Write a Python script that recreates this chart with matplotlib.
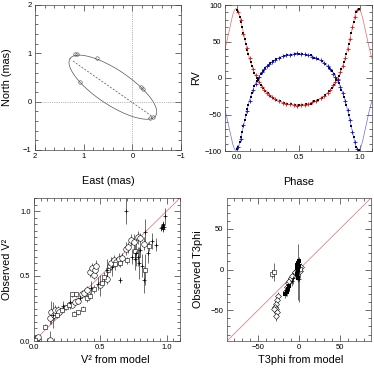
"""
Orbit summary figure: astrometric orbit, RV curves, V2 and T3phi fit quality.
Writes out.png.
"""
import numpy as np
import matplotlib
matplotlib.use("Agg")
import matplotlib.pyplot as plt
from matplotlib.ticker import MultipleLocator

plt.rcParams.update({"font.family": "Liberation Sans", "font.size": 7.8,
                     "axes.linewidth": 0.5, "axes.edgecolor": "#444444"})

# --- astrometric orbit (projected ellipse) and observed positions
ELL_CENTER = (0.40, 0.30)
ELL_A, ELL_B, ELL_PA = 1.06, 0.36, 34.0
NODE_LINE_X = [1.22, -0.40]
NODE_LINE_Y = [0.84, -0.30]
pos_east = [1.17, 1.13, 0.72, 1.07, -0.17, -0.22, -0.42, -0.36]
pos_north = [0.98, 0.99, 0.90, 0.41, 0.30, 0.26, -0.32, -0.34]

# --- spectroscopic orbit
ECC, OMEGA_DEG, T0 = 0.47, 0.0, -0.01
K1, K2, GAMMA = 66.0, 66.0, -2.0

rv_phase = [0.00, 0.01, 0.02, 0.03, 0.04, 0.05, 0.06, 0.07, 0.08, 0.09, 0.11, 0.12,
            0.14, 0.16, 0.17, 0.19, 0.21, 0.23, 0.25, 0.27, 0.29, 0.32, 0.35, 0.38,
            0.41, 0.44, 0.47, 0.50, 0.53, 0.56, 0.60, 0.63, 0.66, 0.69, 0.72, 0.75,
            0.77, 0.79, 0.81, 0.83, 0.85, 0.87, 0.89, 0.91, 0.93, 0.95, 0.97, 0.99]
rv1 = [93, 90, 84, 77, 70, 62, 54, 46, 39, 33, 22, 17,
       7, 0, -3, -9, -14, -18, -21, -24, -27, -30, -32, -34,
       -35, -36, -37, -37, -37, -36, -35, -32, -30, -27, -23, -18,
       -14, -9, -3, 3, 12, 22, 33, 46, 62, 77, 90, 95]
rv2 = [-97, -94, -88, -81, -74, -66, -58, -50, -43, -37, -26, -21,
       -11, -4, -1, 5, 10, 14, 17, 20, 23, 26, 28, 30,
       31, 32, 33, 33, 33, 32, 31, 28, 26, 23, 19, 14,
       10, 5, -1, -7, -16, -26, -37, -50, -66, -81, -94, -99]

rv_phase_b = [0.01, 0.03, 0.05, 0.08, 0.10, 0.13, 0.15, 0.18, 0.20, 0.22, 0.24, 0.26,
              0.28, 0.31, 0.34, 0.37, 0.40, 0.43, 0.46, 0.49, 0.52, 0.55, 0.58, 0.61,
              0.64, 0.68, 0.71, 0.74, 0.76, 0.78, 0.80, 0.82, 0.84, 0.86, 0.88, 0.90,
              0.92, 0.94, 0.96, 0.98]
rv1_b = [91, 79, 60, 41, 28, 13, 4, -5, -12, -16, -20, -23,
         -26, -29, -32, -34, -35, -36, -37, -38, -37, -37, -35, -33,
         -32, -28, -25, -20, -16, -10, -6, -1, 8, 17, 27, 40,
         54, 70, 84, 93]
rv2_b = [-95, -83, -64, -45, -32, -17, -8, 2, 8, 12, 16, 19,
         22, 25, 28, 30, 31, 32, 33, 34, 33, 33, 31, 29,
         28, 24, 21, 16, 12, 6, 2, -3, -12, -21, -31, -44,
         -58, -74, -88, -97]

# --- squared visibilities: model vs observed
v2c_mod = [0.02, 0.03, 0.12, 0.12, 0.13, 0.15, 0.16, 0.18, 0.19, 0.29, 0.31, 0.33,
           0.36, 0.38, 0.40, 0.42, 0.44, 0.45, 0.46, 0.47, 0.50, 0.55, 0.57, 0.58,
           0.60, 0.62, 0.64, 0.66, 0.69, 0.71, 0.73, 0.75, 0.78, 0.80, 0.83]
v2c_obs = [0.02, 0.03, 0.01, 0.18, 0.22, 0.20, 0.24, 0.24, 0.22, 0.28, 0.30, 0.31,
           0.36, 0.37, 0.39, 0.53, 0.56, 0.51, 0.55, 0.58, 0.43, 0.48, 0.58, 0.60,
           0.62, 0.61, 0.63, 0.64, 0.71, 0.72, 0.78, 0.76, 0.80, 0.79, 0.75]
v2c_err = [0.01, 0.01, 0.07, 0.05, 0.09, 0.04, 0.04, 0.03, 0.03, 0.02, 0.02, 0.02,
           0.03, 0.03, 0.03, 0.04, 0.04, 0.03, 0.04, 0.04, 0.08, 0.04, 0.03, 0.05,
           0.04, 0.03, 0.05, 0.04, 0.05, 0.04, 0.04, 0.06, 0.05, 0.04, 0.05]

v2s_mod = [0.01, 0.08, 0.17, 0.21, 0.24, 0.26, 0.30, 0.33, 0.37, 0.29, 0.32, 0.40,
           0.42, 0.45, 0.51, 0.53, 0.56, 0.61, 0.65, 0.70, 0.76, 0.84, 0.87]
v2s_obs = [0.01, 0.11, 0.20, 0.24, 0.26, 0.28, 0.21, 0.22, 0.25, 0.36, 0.36, 0.33,
           0.35, 0.40, 0.45, 0.49, 0.55, 0.59, 0.60, 0.62, 0.69, 0.55, 0.73]
v2s_err = [0.01, 0.02, 0.02, 0.02, 0.02, 0.02, 0.02, 0.02, 0.02, 0.02, 0.02, 0.03,
           0.03, 0.03, 0.03, 0.04, 0.03, 0.04, 0.03, 0.03, 0.05, 0.12, 0.04]

v2p_mod = [0.14, 0.22, 0.27, 0.35, 0.43, 0.48, 0.55, 0.59, 0.65, 0.69, 0.74, 0.76,
           0.77, 0.78, 0.79, 0.80, 0.81, 0.83, 0.84, 0.86, 0.89, 0.92, 0.96, 0.965,
           0.97, 0.975, 0.97, 0.98, 0.99]
v2p_obs = [0.20, 0.27, 0.30, 0.33, 0.41, 0.44, 0.55, 0.57, 0.47, 1.00, 0.65, 0.63,
           0.68, 0.65, 0.60, 0.70, 0.58, 0.47, 0.84, 0.68, 0.77, 0.74, 0.87, 0.88,
           0.89, 0.90, 0.86, 0.88, 0.96]
v2p_err = [0.10, 0.04, 0.05, 0.04, 0.05, 0.05, 0.08, 0.07, 0.02, 0.10, 0.06, 0.08,
           0.10, 0.07, 0.12, 0.05, 0.09, 0.10, 0.10, 0.08, 0.06, 0.05, 0.02, 0.02,
           0.02, 0.02, 0.02, 0.02, 0.06]

# --- closure phases: model vs observed (deg)
t3c_mod = [-26, -27, -28, -29, -28, -27, -28, -30, -14, -12, -10, -15, -16, -8, -5, -3, 0, 2, 1]
t3c_obs = [-33, -38, -42, -46, -49, -52, -57, -48, -17, -14, -11, -22, -26, -8, -3, -1, 2, 3, -2]
t3c_err = [5, 6, 7, 6, 8, 8, 6, 5, 6, 5, 6, 5, 6, 5, 6, 5, 4, 5, 8]

t3s_mod = [-33, -30, -2, 1, -1]
t3s_obs = [-6, -3, -1, 1, 4]
t3s_err = [5, 11, 4, 5, 6]

t3f_mod = [-1, -2, 0, -1, -2, -1, 0, -3, -12, -15, -13, -17]
t3f_obs = [8, 6, 4, -1, -6, -10, 10, 2, -20, -28, -24, -30]
t3f_err = [5, 6, 5, 6, 7, 5, 4, 4, 5, 4, 5, 5]

t3p_mod = [-1, 0, -7, -9]
t3p_obs = [-3, -12, -10, -14]
t3p_err = [35, 28, 8, 6]


def rv_model(phase, k, sign):
    M = 2 * np.pi * (np.asarray(phase) - T0)
    E = M.copy()
    for _ in range(50):
        E = E - (E - ECC * np.sin(E) - M) / (1 - ECC * np.cos(E))
    nu = 2 * np.arctan2(np.sqrt(1 + ECC) * np.sin(E / 2), np.sqrt(1 - ECC) * np.cos(E / 2))
    w = np.radians(OMEGA_DEG)
    return GAMMA + sign * k * (np.cos(nu + w) + ECC * np.cos(w))


def _style(ax, xmaj, xmin, ymaj, ymin):
    ax.xaxis.set_major_locator(MultipleLocator(xmaj))
    ax.xaxis.set_minor_locator(MultipleLocator(xmin))
    ax.yaxis.set_major_locator(MultipleLocator(ymaj))
    ax.yaxis.set_minor_locator(MultipleLocator(ymin))
    ax.tick_params(which="both", direction="in", top=True, right=True,
                   labelsize=5.5, width=0.4, pad=2.5)
    ax.tick_params(which="major", length=4)
    ax.tick_params(which="minor", length=2)


W, H = 374, 371
fig = plt.figure(figsize=(W / 100, H / 100), dpi=100)


def _axes(l, t, r, b):
    return fig.add_axes([l / W, 1 - b / H, (r - l) / W, (b - t) / H])


# top-left: relative orbit on the sky
ax = _axes(35, 5, 181, 150)
th = np.linspace(0, 2 * np.pi, 400)
pa = np.radians(ELL_PA)
ex = ELL_CENTER[0] + ELL_A * np.cos(th) * np.cos(pa) - ELL_B * np.sin(th) * np.sin(pa)
ey = ELL_CENTER[1] + ELL_A * np.cos(th) * np.sin(pa) + ELL_B * np.sin(th) * np.cos(pa)
ax.plot(ex, ey, color="#555555", lw=0.5)
ax.plot(NODE_LINE_X, NODE_LINE_Y, color="#555555", lw=0.5, ls=(0, (3, 2)))
ax.axhline(0, color="#777777", lw=0.5, ls=":")
ax.axvline(0, color="#777777", lw=0.5, ls=":")
ax.plot(pos_east, pos_north, "o", ms=2.5, mfc="none", mec="#444444", mew=0.4)
ax.set_xlim(2, -1)
ax.set_ylim(-1, 2)
_style(ax, 1, 0.2, 1, 0.2)
ax.set_xlabel("East (mas)")
ax.set_ylabel("North (mas)")
ax.xaxis.set_label_coords(0.5, -0.18)
ax.yaxis.set_label_coords(-0.155, 0.5)

# top-right: radial velocities
ax = _axes(225, 5, 372, 151)
ph = np.linspace(-0.1, 1.1, 800)
ax.plot(ph, rv_model(ph, K1, 1), color="#e86a6a", lw=0.5)
ax.plot(ph, rv_model(ph, K2, -1), color="#6a6ae8", lw=0.5)
ax.plot(rv_phase, rv1, "s", color="black", ms=1.9, mew=0)
ax.plot(rv_phase, rv2, "s", color="#000033", ms=1.9, mew=0)
ax.plot(rv_phase_b, rv1_b, "+", color="#dd1111", ms=3.5, mew=0.6)
ax.plot(rv_phase_b, rv2_b, "+", color="#1111cc", ms=3.5, mew=0.6)
ax.set_xlim(-0.1, 1.1)
ax.set_ylim(-100, 100)
_style(ax, 0.5, 0.1, 50, 10)
ax.set_xlabel("Phase")
ax.set_ylabel("RV")
ax.xaxis.set_label_coords(0.5, -0.18)
ax.yaxis.set_label_coords(-0.163, 0.5)

# bottom-left: V2
ax = _axes(34, 198, 180, 341)
ax.plot([0, 1.1], [0, 1.1], color="#e86a6a", lw=0.5)
ebk = dict(fmt="none", ecolor="black", elinewidth=0.4, capsize=0)
ax.errorbar(v2c_mod, v2c_obs, yerr=v2c_err, **ebk)
ax.errorbar(v2s_mod, v2s_obs, yerr=v2s_err, **ebk)
ax.errorbar(v2p_mod, v2p_obs, yerr=v2p_err, **ebk)
ax.plot(v2c_mod, v2c_obs, "o", ms=4, mfc="white", mec="black", mew=0.4)
ax.plot(v2s_mod, v2s_obs, "s", ms=3.3, mfc="white", mec="black", mew=0.4)
ax.plot(v2p_mod, v2p_obs, "+", ms=3.5, color="black", mew=0.5)
ax.set_xlim(0, 1.1)
ax.set_ylim(0, 1.1)
_style(ax, 0.5, 0.05, 0.5, 0.05)
ax.set_xlabel("V² from model")
ax.set_ylabel("Observed V²")
ax.xaxis.set_label_coords(0.56, -0.095)
ax.yaxis.set_label_coords(-0.15, 0.5)

# bottom-right: closure phases
ax = _axes(227, 198, 371, 341)
ax.plot([-88, 88], [-88, 88], color="#e86a6a", lw=0.5)
ax.errorbar(t3c_mod, t3c_obs, yerr=t3c_err, **ebk)
ax.errorbar(t3s_mod, t3s_obs, yerr=t3s_err, **ebk)
ax.errorbar(t3f_mod, t3f_obs, yerr=t3f_err, **ebk)
ax.errorbar(t3p_mod, t3p_obs, yerr=t3p_err, **ebk)
ax.plot(t3c_mod, t3c_obs, "D", ms=3, mfc="white", mec="black", mew=0.4)
ax.plot(t3s_mod, t3s_obs, "s", ms=3, mfc="white", mec="black", mew=0.4)
ax.plot(t3f_mod, t3f_obs, "s", ms=2.5, color="black", mew=0)
ax.plot(t3p_mod, t3p_obs, "+", ms=3.5, color="black", mew=0.5)
ax.set_xlim(-88, 88)
ax.set_ylim(-88, 88)
_style(ax, 50, 10, 50, 10)
ax.set_xlabel("T3phi from model")
ax.set_ylabel("Observed T3phi")
ax.xaxis.set_label_coords(0.51, -0.095)
ax.yaxis.set_label_coords(-0.167, 0.5)

fig.savefig("out.png", dpi=100)
